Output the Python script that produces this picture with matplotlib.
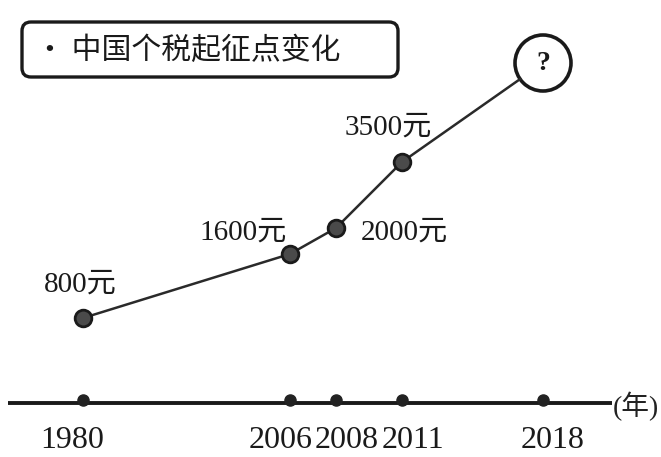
import matplotlib.pyplot as plt
from matplotlib.patches import FancyBboxPatch, Circle

plt.rcParams['font.family'] = ['Liberation Serif', 'Noto Sans CJK SC', 'DejaVu Sans']

# data (schematic chart, positions are not to scale)
years = ['1980', '2006', '2008', '2011', '2018']
thresholds = [800, 1600, 2000, 3500]          # 2018 shown as "?"
year_pos = [83, 290, 336, 402, 543]            # position along the time axis
heights = [85, 149, 175, 241, 340]             # drawn height above the axis
year_label_shift = [-11, -9, 11, 11, 10]
label_offsets = [(-3, 33), (-47, 21), (68, -5), (-14, 34)]

fig = plt.figure(figsize=(6.61, 4.57), dpi=100)
ax = fig.add_axes([0, 0, 1, 1])
ax.set_xlim(0, 661)
ax.set_ylim(-54, 403)
ax.axis('off')

# time axis
ax.plot([8, 612], [0, 0], color='#1a1a1a', lw=2.8, solid_capstyle='butt')
ax.plot(year_pos, [3] * len(year_pos), 'o', color='#222222', ms=8)
ax.text(613, -3, '(年)', fontsize=20, va='center', ha='left', color='#222222')
for x, s, y in zip(year_pos, year_label_shift, years):
    ax.text(x + s, -38, y, fontsize=23, ha='center', va='center', color='#1a1a1a')

# trend line up to the question circle
r = 28
cx, cy = year_pos[-1], heights[-1]
dx, dy = cx - year_pos[-2], cy - heights[-2]
d = (dx ** 2 + dy ** 2) ** 0.5
line_x = year_pos[:-1] + [cx - dx / d * r]
line_y = heights[:-1] + [cy - dy / d * r]
ax.plot(line_x, line_y, color='#2a2a2a', lw=1.8)
ax.plot(year_pos[:-1], heights[:-1], 'o', ms=12, mfc='#4a4a4a', mec='#1a1a1a', mew=2)
ax.add_patch(Circle((cx, cy), r, fill=False, ec='#1a1a1a', lw=2.6))
ax.text(cx, cy, '?', fontsize=20, ha='center', va='center', fontweight='bold', color='#1a1a1a')

for x, y, v, (ox, oy) in zip(year_pos, heights, thresholds, label_offsets):
    ax.text(x + ox, y + oy, f'{v}元', fontsize=21, ha='center', va='center', color='#1a1a1a')

# title box
ax.add_patch(FancyBboxPatch((22, 326), 376, 55, boxstyle='round,pad=0,rounding_size=9',
                            fill=False, ec='#1a1a1a', lw=2.4))
ax.text(35, 353, '· 中国个税起征点变化', fontsize=21.5, ha='left', va='center',
        family=['Noto Sans CJK SC', 'DejaVu Sans'], color='#1a1a1a')

fig.savefig('out.png', dpi=100, facecolor='white')
